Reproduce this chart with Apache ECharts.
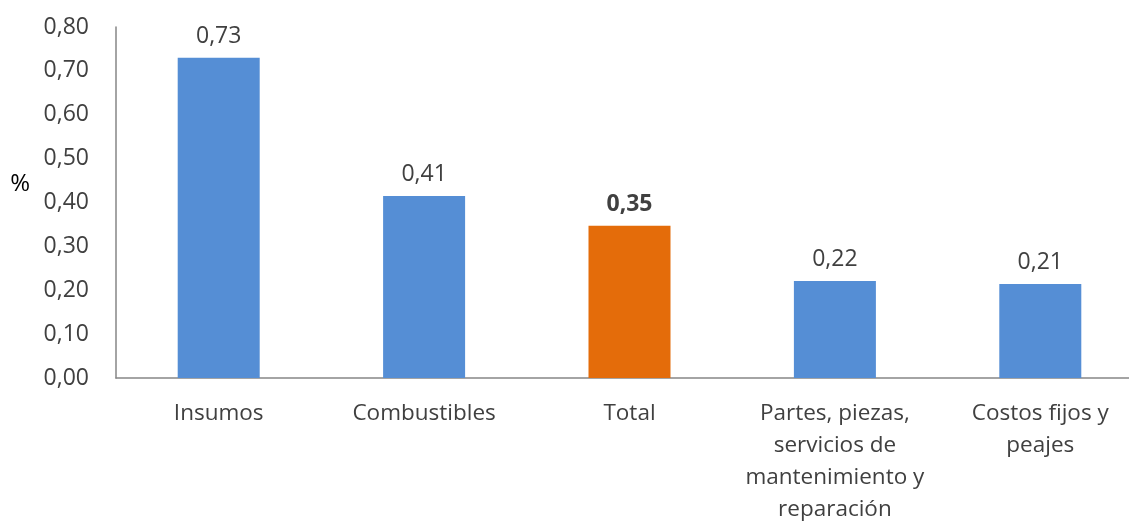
<!DOCTYPE html>
<html><head><meta charset="utf-8">
<script src="https://cdn.jsdelivr.net/npm/echarts@6/dist/echarts.min.js"></script>
<style>html,body{margin:0;padding:0;background:#fff}#c{width:1129px;height:521px}</style>
</head><body><div id="c"></div>
<script>
const categories = ["Insumos", "Combustibles", "Total", "Partes, piezas,\nservicios de\nmantenimiento y\nreparación", "Costos fijos y\npeajes"];
const values = [0.73, 0.415, 0.347, 0.221, 0.214];
const labels = ["0,73", "0,41", "0,35", "0,22", "0,21"];
const highlightIndex = 2;
const yTicks = [0, 0.1, 0.2, 0.3, 0.4, 0.5, 0.6, 0.7, 0.8];

const FONT = "Open Sans";
const chart = echarts.init(document.getElementById('c'));
chart.setOption({
  animation: false,
  textStyle: { fontFamily: FONT },
  grid: { left: 116, width: 1027, top: 27, height: 351, outerBoundsMode: 'none', containLabel: false },
  xAxis: {
    type: 'category', data: categories,
    axisLine: { lineStyle: { color: '#868686', width: 1.5 } },
    axisTick: { show: false },
    axisLabel: { color: '#404040', fontSize: 22.5, lineHeight: 32, margin: 20, interval: 0, fontFamily: FONT }
  },
  yAxis: {
    type: 'value', min: 0, max: 0.8, interval: 0.1,
    name: '%', nameLocation: 'middle', nameRotate: 0, nameGap: 86,
    nameTextStyle: { color: '#000', fontSize: 24, fontFamily: FONT, verticalAlign: 'bottom', padding: [0, 0, 6, 0] },
    axisLine: { show: true, lineStyle: { color: '#868686', width: 1.5 } },
    axisTick: { show: false },
    splitLine: { show: false },
    axisLabel: { color: '#404040', fontSize: 23, margin: 27, fontFamily: FONT,
      formatter: v => v.toFixed(2).replace('.', ',') }
  },
  series: [{
    type: 'bar', barWidth: 82,
    data: values.map((v, i) => ({
      value: v,
      itemStyle: { color: i === highlightIndex ? '#E46C0A' : '#558ED5' },
      label: { fontWeight: i === highlightIndex ? 'bold' : 'normal' }
    })),
    label: { show: true, position: 'top', distance: 10, color: '#404040', fontSize: 23, fontFamily: FONT,
      formatter: p => labels[p.dataIndex] }
  }]
});
</script></body></html>
